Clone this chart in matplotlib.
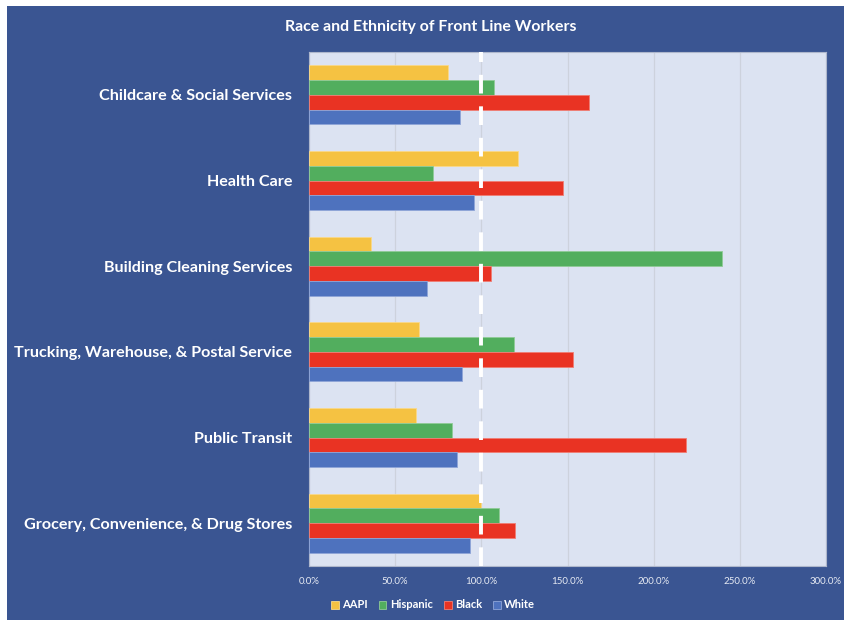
import matplotlib
matplotlib.use("Agg")
import matplotlib.pyplot as plt
import numpy as np
from matplotlib.patches import Rectangle

categories = ["Childcare & Social Services", "Health Care", "Building Cleaning Services",
              "Trucking, Warehouse, & Postal Service", "Public Transit",
              "Grocery, Convenience, & Drug Stores"]
series_names = ["AAPI", "Hispanic", "Black", "White"]
aapi = [80.4, 121.2, 36.2, 63.7, 61.8, 99.8]
hispanic = [107.2, 72.1, 239.5, 119.0, 83.1, 110.1]
black = [162.3, 147.2, 105.8, 153.2, 219.0, 119.4]
white = [87.8, 95.9, 68.2, 88.8, 86.0, 93.6]
xticks = [0, 50, 100, 150, 200, 250, 300]
colors = ["#F5C242", "#52AE5E", "#E93323", "#4E72BE"]
edgecolors = ["#F9D98A", "#8FCB97", "#F07E74", "#8FA5D8"]

plt.rcParams['font.family'] = ['Lato', 'DejaVu Sans']

bg = "#3A5592"
fig = plt.figure(figsize=(8.44, 6.2), dpi=100)
fig.patch.set_facecolor("white")
fig.patches.append(Rectangle((7/844, 0), 1, 1 - 6/620, transform=fig.transFigure,
                             facecolor=bg, edgecolor="none", zorder=-10))

ax = fig.add_axes([309/844, 1 - 566/620, (826 - 309)/844, (566 - 52)/620])
ax.set_facecolor("#DCE3F2")

n = len(categories)
centers = np.arange(n)
bh = 0.172
data = [aapi, hispanic, black, white]
offsets = [-1.5 * bh, -0.5 * bh, 0.5 * bh, 1.5 * bh]
for vals, off, c, ec, name in zip(data, offsets, colors, edgecolors, series_names):
    ax.barh(centers + off, vals, height=bh, color=c, edgecolor=ec, linewidth=0.6,
            label=name, zorder=3)

ax.set_ylim(n - 0.5, -0.5)
ax.set_xlim(0, 300)
ax.set_yticks(centers)
ax.set_yticklabels(categories, color="white", fontsize=11.6, fontweight="bold")
ax.set_xticks(xticks)
ax.set_xticklabels([f"{t:.1f}%" for t in xticks], color="#E6EAF3", fontsize=7)
ax.tick_params(axis='both', length=0)
ax.tick_params(axis='y', pad=12)
ax.tick_params(axis='x', pad=8)
ax.grid(axis='x', color="#CDD2DD", linewidth=0.9, zorder=1)
ax.set_axisbelow(True)
for s in ax.spines.values():
    s.set_color("#AEB7CC")
    s.set_linewidth(0.8)

ax.axvline(100, color="white", linewidth=2.8, dashes=(4.8, 3.3), zorder=5)

fig.text(431/844, 1 - 27/620, "Race and Ethnicity of Front Line Workers",
         color="white", fontsize=11.4, fontweight="bold", ha="center", va="center")

leg = fig.legend(loc="center", bbox_to_anchor=(433/844, 1 - 605/620), ncol=4,
                 frameon=False, fontsize=8, handlelength=0.7, handleheight=0.7,
                 handletextpad=0.3, columnspacing=1.0)
for t in leg.get_texts():
    t.set_color("white")
    t.set_fontweight("bold")

fig.savefig("out.png", dpi=100, facecolor=fig.get_facecolor())
